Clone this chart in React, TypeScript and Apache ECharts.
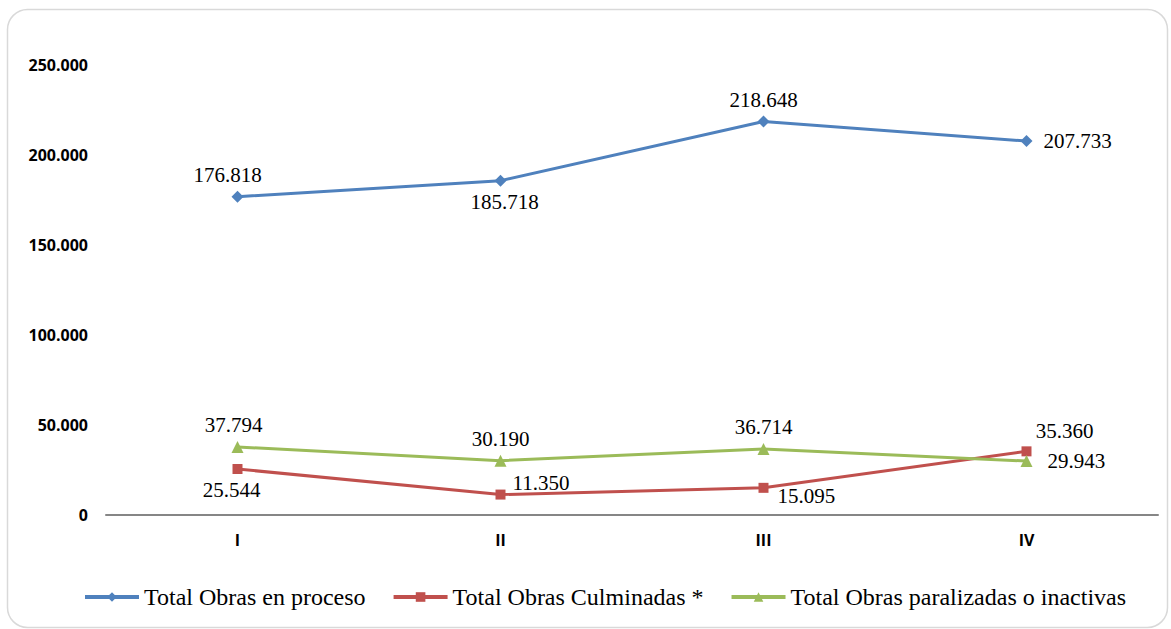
import React, { useEffect, useRef } from "react";
import * as echarts from "echarts";

const categories = ["I", "II", "III", "IV"];
const seriesNames = [
  "Total Obras en proceso",
  "Total Obras Culminadas *",
  "Total Obras paralizadas o inactivas",
];
const enProceso = [176818, 185718, 218648, 207733];
const culminadas = [25544, 11350, 15095, 35360];
const paralizadas = [37794, 30190, 36714, 29943];
const yTicks = [0, 50000, 100000, 150000, 200000, 250000];

const fmt = (v: number) => {
  const s = Math.round(v).toString();
  return s.replace(/\B(?=(\d{3})+(?!\d))/g, ".");
};

const serif = "'Liberation Serif', 'Times New Roman', serif";
const sans = "'Open Sans', 'Noto Sans', sans-serif";

export default function App() {
  const ref = useRef<HTMLDivElement>(null);
  useEffect(() => {
    if (!ref.current) return;
    const chart = echarts.init(ref.current, undefined, { renderer: "svg" });
    const labelBase = {
      show: true,
      fontFamily: serif,
      fontSize: 21,
      color: "#000",
      formatter: (p: any) => fmt(p.value),
    };
    const mk = (pos: any[], offs: any[]) =>
      pos.map((p, i) => ({ ...labelBase, position: p, distance: 5, offset: offs[i] }));

    const blueLabels = mk(["top", "bottom", "top", "right"], [[-10, 0], [4, 0], [0, 0], [6, 0]]);
    const redLabels = mk(["bottom", "right", "right", "top"], [[-6, 0], [2, -12], [4, 8], [38, 0]]);
    const greenLabels = mk(["top", "top", "top", "right"], [[-4, 0], [0, 0], [0, 0], [10, 0]]);

    const build = (vals: number[], labels: any[]) =>
      vals.map((v, i) => ({ value: v, label: labels[i] }));

    chart.setOption({
      animation: false,
      backgroundColor: "#fff",
      graphic: [
        {
          type: "rect",
          shape: { x: 7.5, y: 9.5, width: 1160, height: 618, r: 20 },
          style: { fill: "none", stroke: "#d9d9d9", lineWidth: 1.5 },
          silent: true,
        },
      ],
      grid: { left: 106, right: 13, top: 65, bottom: 114 },
      legend: {
        bottom: 15,
        left: 78,
        itemWidth: 54,
        itemHeight: 12,
        itemGap: 26,
        lineStyle: { width: 4 },
        textStyle: { fontFamily: serif, fontSize: 24, color: "#000" },
        data: seriesNames,
      },
      xAxis: {
        type: "category",
        data: categories,
        boundaryGap: true,
        axisLine: { lineStyle: { color: "#868686", width: 2 } },
        axisTick: { show: false },
        axisLabel: {
          fontFamily: sans,
          fontWeight: "bold",
          fontSize: 16,
          color: "#000",
          margin: 17,
        },
      },
      yAxis: {
        type: "value",
        min: 0,
        max: 250000,
        interval: 50000,
        axisLine: { show: false },
        axisTick: { show: false },
        splitLine: { show: false },
        axisLabel: {
          fontFamily: sans,
          fontWeight: "bold",
          fontSize: 16,
          color: "#000",
          margin: 18,
          formatter: (v: number) => (yTicks.includes(v) ? fmt(v) : ""),
        },
      },
      series: [
        {
          name: seriesNames[0],
          type: "line",
          data: build(enProceso, blueLabels),
          symbol: "diamond",
          symbolSize: 12,
          lineStyle: { width: 3, color: "#4F81BD" },
          itemStyle: { color: "#4F81BD" },
          color: "#4F81BD",
        },
        {
          name: seriesNames[1],
          type: "line",
          data: build(culminadas, redLabels),
          symbol: "rect",
          symbolSize: 10,
          lineStyle: { width: 3, color: "#C0504D" },
          itemStyle: { color: "#C0504D" },
          color: "#C0504D",
        },
        {
          name: seriesNames[2],
          type: "line",
          data: build(paralizadas, greenLabels),
          symbol: "triangle",
          symbolSize: 12,
          lineStyle: { width: 3, color: "#9BBB59" },
          itemStyle: { color: "#9BBB59" },
          color: "#9BBB59",
        },
      ],
    });
    return () => chart.dispose();
  }, []);
  return (
    <div
      ref={ref}
      style={{ position: "fixed", left: 0, top: 0, width: 1171, height: 629 }}
    />
  );
}
